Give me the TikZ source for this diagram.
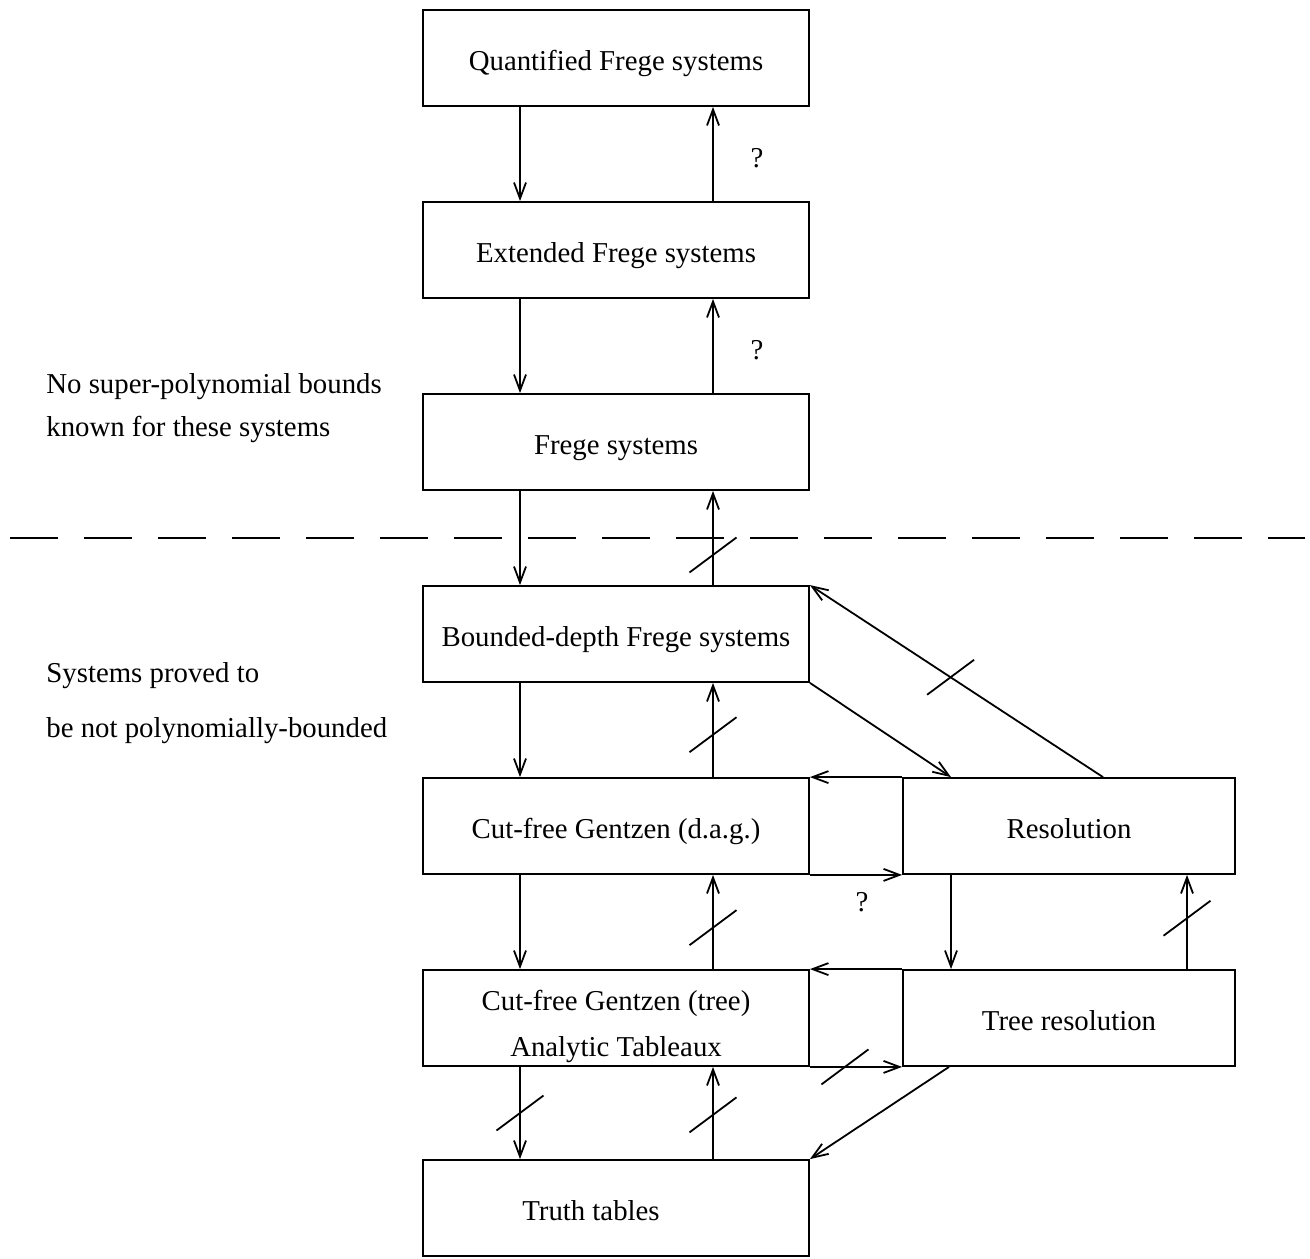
\documentclass[tikz,border=0pt]{standalone}
\usepackage{fontspec}
\setmainfont{Liberation Serif}
\usetikzlibrary{arrows.meta}

\tikzset{
  sysbox/.style={draw, line width=0.9pt, minimum width=193pt, minimum height=48pt,
    inner sep=0pt, text height=13pt, text depth=0.5pt},
  resbox/.style={sysbox, minimum width=166pt},
  arr/.style={-{Straight Barb[length=8pt,width=6pt]}, line width=0.9pt},
  slashmark/.style={line width=0.9pt},
  divider/.style={line width=0.9pt, dash pattern=on 24pt off 13pt},
  note/.style={anchor=base west, inner sep=0pt}
}

\begin{document}
\begin{tikzpicture}[x=0.5pt, y=-0.5pt, font=\fontsize{14.4}{17.28}\selectfont]
\useasboundingbox (0,0) rectangle (1310,1258);

% Системы (левый столбец)
\node[sysbox] (qfrege) at (616,58) {Quantified Frege systems};
\node[sysbox] (efrege) at (616,250) {Extended Frege systems};
\node[sysbox] (frege) at (616,442) {Frege systems};
\node[sysbox] (bdfrege) at (616,634) {Bounded-depth Frege systems};
\node[sysbox] (gdag) at (616,826) {Cut-free Gentzen (d.a.g.)};
\node[sysbox, text height=42pt, text depth=, align=center] (gtree) at (616,1018)
  {Cut-free Gentzen (tree)\\[5.7pt]Analytic Tableaux};
\node[sysbox] (truth) at (616,1208) {Truth tables\hspace*{25pt}};

% Резолюция (правый столбец)
\node[resbox] (res) at (1069,826) {Resolution};
\node[resbox] (tres) at (1069,1018) {Tree resolution};

% Подписи слева
\node[note] (nobound) at (46,393) {No super-polynomial bounds};
\node[note] (nobound2) at (46,436) {known for these systems};
\node[note] (proved) at (46,682) {Systems proved to};
\node[note] (proved2) at (46,737) {be not polynomially-bounded};

% Граница
\draw[divider] (10,538) -- (1305,538);

% Стрелки вниз и вверх
\foreach \a/\b/\p in {qfrege/efrege/.5, efrege/frege/.5, frege/bdfrege/.32,
    bdfrege/gdag/.45, gdag/gtree/.44, gtree/truth/.48} {
  \draw[arr] ([xshift=-48pt]\a.south) -- ([xshift=-48pt]\b.north) coordinate[pos=.5] (dn-\b);
  \draw[arr] ([xshift=48.5pt]\b.north) -- ([xshift=48.5pt]\a.south) coordinate[pos=\p] (up-\b);
}

\draw[arr] (bdfrege.south east) -- ([xshift=-59pt]res.north);
\draw[arr] ([xshift=17pt]res.north) -- (bdfrege.north east) coordinate[pos=.52] (up-res);
\draw[arr] (res.north west) -- (gdag.north east);
\draw[arr] (gdag.south east) -- (res.south west);
\draw[arr] (tres.north west) -- (gtree.north east);
\draw[arr] (gtree.south east) -- (tres.south west) coordinate[pos=.38] (rt-tres);
\draw[arr] ([xshift=-59pt]res.south) -- ([xshift=-59pt]tres.north);
\draw[arr] ([xshift=59pt]tres.north) -- ([xshift=59pt]res.south) coordinate[pos=.54] (up-tres);
\draw[arr] ([xshift=-60pt]tres.south) -- (truth.north east);

% Перечёркнутые стрелки
\foreach \c in {up-bdfrege, up-gdag, up-gtree, up-truth, dn-truth, up-res, rt-tres, up-tres}
  \draw[slashmark] (\c) ++(-23.5,17.5) -- ++(47,-35);

% Вопросы
\node (qmark1) at (757,158) {?};
\node (qmark2) at (757,350) {?};
\node (qmark3) at (862,902) {?};
\end{tikzpicture}
\end{document}
